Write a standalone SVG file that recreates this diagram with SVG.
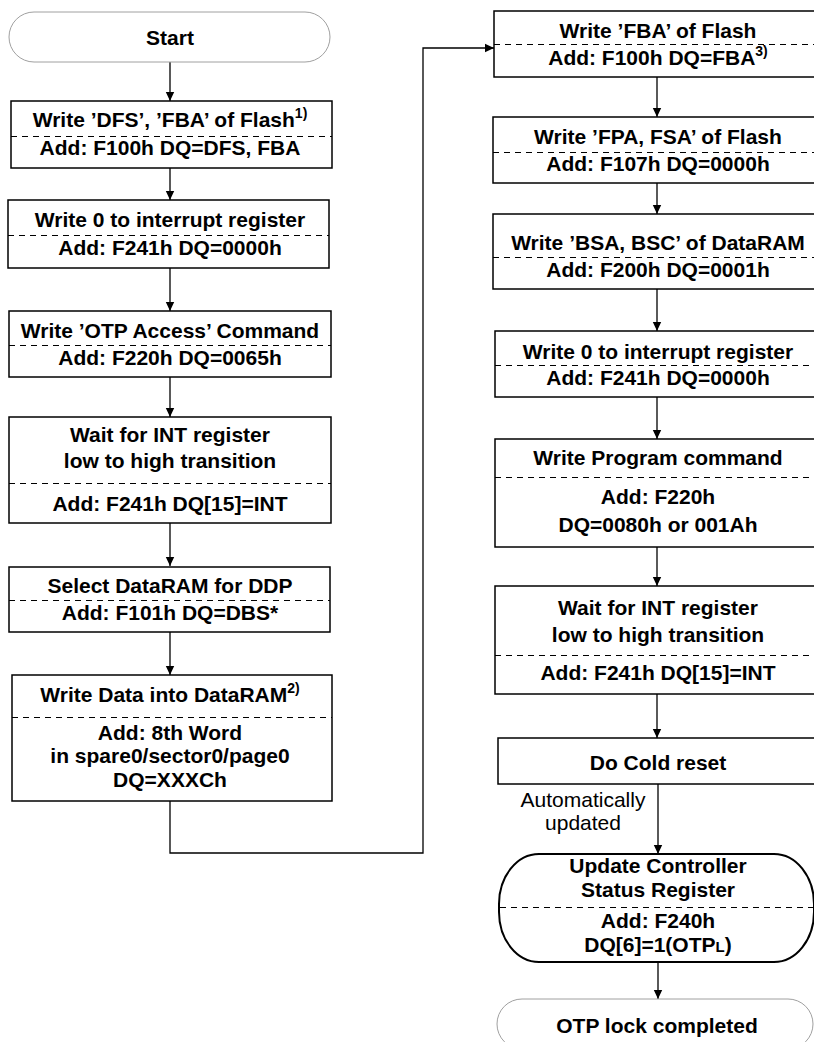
<svg xmlns="http://www.w3.org/2000/svg" width="814" height="1042" viewBox="0 0 814 1042">
<defs>
<marker id="ah" markerWidth="10" markerHeight="10" refX="9" refY="5" orient="auto" markerUnits="userSpaceOnUse">
<path d="M0,0.8 L9,5 L0,9.2 Z" fill="#000"/>
</marker>
<style>
.box{fill:#fff;stroke:#000;stroke-width:1.5}
.term{fill:#fff;stroke:#a0a0a0;stroke-width:1}
.dash{stroke:#000;stroke-width:1;stroke-dasharray:6 5;fill:none}
.t{font-family:"Liberation Sans",Arial,sans-serif;font-size:21px;font-weight:bold;text-anchor:middle;fill:#000}
.n{font-family:"Liberation Sans",Arial,sans-serif;font-size:21px;text-anchor:middle;fill:#000}
.sup{font-size:14px}
.sub{font-size:15px}
.c{stroke:#000;stroke-width:1.3;fill:none}
</style>
</defs>
<rect width="814" height="1042" fill="#fff"/>

<g id="connectors">
<line class="c" x1="170" y1="62" x2="170" y2="101" marker-end="url(#ah)"/>
<line class="c" x1="170" y1="168" x2="170" y2="200" marker-end="url(#ah)"/>
<line class="c" x1="170" y1="268" x2="170" y2="311" marker-end="url(#ah)"/>
<line class="c" x1="170" y1="377" x2="170" y2="417" marker-end="url(#ah)"/>
<line class="c" x1="170" y1="523" x2="170" y2="566" marker-end="url(#ah)"/>
<line class="c" x1="170" y1="632" x2="170" y2="675" marker-end="url(#ah)"/>
<polyline class="c" points="170,801 170,853 423,853 423,48 494,48" marker-end="url(#ah)"/>
<line class="c" x1="657" y1="77" x2="657" y2="117" marker-end="url(#ah)"/>
<line class="c" x1="657" y1="183" x2="657" y2="214" marker-end="url(#ah)"/>
<line class="c" x1="657" y1="289" x2="657" y2="331" marker-end="url(#ah)"/>
<line class="c" x1="657" y1="397" x2="657" y2="439" marker-end="url(#ah)"/>
<line class="c" x1="657" y1="547" x2="657" y2="586" marker-end="url(#ah)"/>
<line class="c" x1="657" y1="694" x2="657" y2="738" marker-end="url(#ah)"/>
<line class="c" x1="658" y1="784" x2="658" y2="854" marker-end="url(#ah)"/>
<line class="c" x1="658" y1="962" x2="658" y2="999" marker-end="url(#ah)"/>
<text class="n" x="583" y="807">Automatically</text>
<text class="n" x="583" y="830">updated</text>
</g>

<g id="start">
<rect class="term" x="9" y="12" width="321" height="50" rx="25" ry="25"/>
<text class="t" x="170" y="45">Start</text>
</g>

<g id="n1">
<rect class="box" x="11" y="101" width="321" height="67"/>
<line class="dash" x1="11" y1="136.5" x2="332" y2="136.5"/>
<text class="t" x="170" y="127">Write ’DFS’, ’FBA’ of Flash<tspan class="sup" dy="-9">1)</tspan></text>
<text class="t" x="170" y="155">Add: F100h DQ=DFS, FBA</text>
</g>

<g id="n2">
<rect class="box" x="8" y="200" width="321" height="68"/>
<line class="dash" x1="8" y1="235.5" x2="329" y2="235.5"/>
<text class="t" x="170" y="227">Write 0 to interrupt register</text>
<text class="t" x="170" y="255">Add: F241h DQ=0000h</text>
</g>

<g id="n3">
<rect class="box" x="9" y="311" width="322" height="66"/>
<line class="dash" x1="9" y1="345.5" x2="331" y2="345.5"/>
<text class="t" x="170" y="338">Write ’OTP Access’ Command</text>
<text class="t" x="170" y="365">Add: F220h DQ=0065h</text>
</g>

<g id="n4">
<rect class="box" x="9" y="417" width="322" height="106"/>
<line class="dash" x1="9" y1="483.5" x2="331" y2="483.5"/>
<text class="t" x="170" y="442">Wait for INT register</text>
<text class="t" x="170" y="468">low to high transition</text>
<text class="t" x="170" y="511">Add: F241h DQ[15]=INT</text>
</g>

<g id="n5">
<rect class="box" x="9" y="567" width="321" height="65"/>
<line class="dash" x1="9" y1="600.5" x2="330" y2="600.5"/>
<text class="t" x="170" y="593">Select DataRAM for DDP</text>
<text class="t" x="170" y="620">Add: F101h DQ=DBS*</text>
</g>

<g id="n6">
<rect class="box" x="12" y="675" width="320" height="126"/>
<line class="dash" x1="12" y1="717.5" x2="332" y2="717.5"/>
<text class="t" x="170" y="702">Write Data into DataRAM<tspan class="sup" dy="-9">2)</tspan></text>
<text class="t" x="170" y="740">Add: 8th Word</text>
<text class="t" x="170" y="763">in spare0/sector0/page0</text>
<text class="t" x="170" y="787">DQ=XXXCh</text>
</g>

<g id="n7">
<rect class="box" x="494" y="11" width="326" height="66"/>
<line class="dash" x1="494" y1="44.5" x2="814" y2="44.5"/>
<text class="t" x="658" y="38">Write ’FBA’ of Flash</text>
<text class="t" x="658" y="65">Add: F100h DQ=FBA<tspan class="sup" dy="-9">3)</tspan></text>
</g>

<g id="n8">
<rect class="box" x="493" y="117" width="327" height="66"/>
<line class="dash" x1="493" y1="152.5" x2="814" y2="152.5"/>
<text class="t" x="658" y="144">Write ’FPA, FSA’ of Flash</text>
<text class="t" x="658" y="171">Add: F107h DQ=0000h</text>
</g>

<g id="n9">
<rect class="box" x="493" y="214" width="327" height="75"/>
<line class="dash" x1="493" y1="257.5" x2="814" y2="257.5"/>
<text class="t" x="658" y="250">Write ’BSA, BSC’ of DataRAM</text>
<text class="t" x="658" y="277">Add: F200h DQ=0001h</text>
</g>

<g id="n10">
<rect class="box" x="495" y="331" width="325" height="66"/>
<line class="dash" x1="495" y1="365.5" x2="814" y2="365.5"/>
<text class="t" x="658" y="359">Write 0 to interrupt register</text>
<text class="t" x="658" y="385">Add: F241h DQ=0000h</text>
</g>

<g id="n11">
<rect class="box" x="495" y="439" width="325" height="108"/>
<line class="dash" x1="495" y1="477.5" x2="814" y2="477.5"/>
<text class="t" x="658" y="465">Write Program command</text>
<text class="t" x="658" y="504">Add: F220h</text>
<text class="t" x="658" y="532">DQ=0080h or 001Ah</text>
</g>

<g id="n12">
<rect class="box" x="495" y="586" width="325" height="108"/>
<line class="dash" x1="495" y1="655.5" x2="814" y2="655.5"/>
<text class="t" x="658" y="615">Wait for INT register</text>
<text class="t" x="658" y="642">low to high transition</text>
<text class="t" x="658" y="680">Add: F241h DQ[15]=INT</text>
</g>

<g id="n13">
<rect class="box" x="498" y="738" width="322" height="46"/>
<text class="t" x="658" y="770">Do Cold reset</text>
</g>

<g id="n14">
<rect x="499" y="854" width="315" height="108" rx="40" ry="50" fill="#fff" stroke="#000" stroke-width="2"/>
<line class="dash" x1="500" y1="907.5" x2="813" y2="907.5"/>
<text class="t" x="658" y="873">Update Controller</text>
<text class="t" x="658" y="897">Status Register</text>
<text class="t" x="658" y="928">Add: F240h</text>
<text class="t" x="658" y="952">DQ[6]=1(OTP<tspan class="sub">L</tspan>)</text>
</g>

<g id="end">
<rect class="term" x="497" y="999" width="316" height="50" rx="25" ry="25"/>
<text class="t" x="657" y="1033">OTP lock completed</text>
</g>
</svg>
